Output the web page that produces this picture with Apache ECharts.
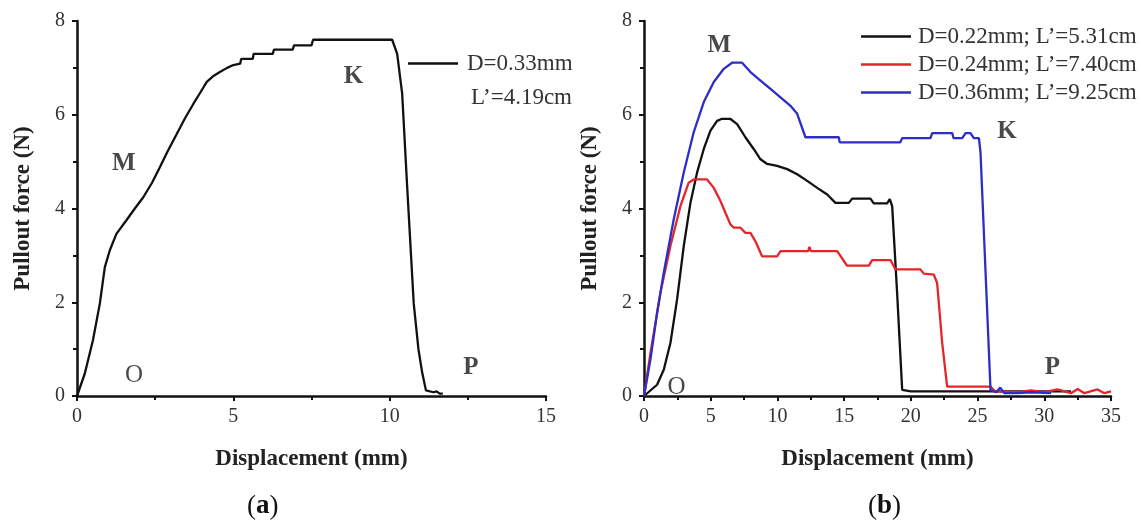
<!DOCTYPE html>
<html><head><meta charset="utf-8">
<script src="https://cdn.jsdelivr.net/npm/echarts@6/dist/echarts.min.js"></script>
<style>html,body{margin:0;padding:0;background:#fff}#c{width:1141px;height:524px}</style>
</head><body><div id="c"></div>
<script>
// ---- data ----
var xTicksA = [0, 5, 10, 15];
var xTicksB = [0, 5, 10, 15, 20, 25, 30, 35];
var yTicks = [0, 2, 4, 6, 8];
var nameA = 'D=0.33mm';
var nameA2 = 'L\u2019=4.19cm';
var namesB = ['D=0.22mm; L\u2019=5.31cm', 'D=0.24mm; L\u2019=7.40cm', 'D=0.36mm; L\u2019=9.25cm'];
var curveA = [[0,0],[0.25,0.48],[0.51,1.19],[0.73,1.97],[0.89,2.75],[1.05,3.11],[1.26,3.46],[1.58,3.75],[1.85,4.0],[2.12,4.24],[2.4,4.55],[2.65,4.88],[2.9,5.22],[3.19,5.59],[3.45,5.92],[3.72,6.23],[3.95,6.48],[4.15,6.70],[4.35,6.82],[4.57,6.91],[4.8,7.0],[5.0,7.06],[5.22,7.09],[5.25,7.19],[5.62,7.19],[5.65,7.30],[6.26,7.30],[6.3,7.39],[6.9,7.39],[6.94,7.48],[7.5,7.48],[7.55,7.6],[10.08,7.6],[10.24,7.3],[10.4,6.45],[10.56,4.46],[10.77,1.97],[10.92,1.0],[11.04,0.5],[11.16,0.12],[11.4,0.08],[11.5,0.1],[11.6,0.05],[11.7,0.05]];
var curveB022 = [[0,0],[0.98,0.24],[1.48,0.56],[1.98,1.13],[2.48,2.06],[2.98,3.2],[3.48,4.12],[3.98,4.77],[4.48,5.27],[4.98,5.66],[5.48,5.87],[5.8,5.91],[6.48,5.91],[6.98,5.8],[7.6,5.52],[8.22,5.27],[8.73,5.05],[9.23,4.95],[9.98,4.91],[10.73,4.84],[11.48,4.73],[12.23,4.59],[12.98,4.44],[13.73,4.3],[14.35,4.12],[15.35,4.12],[15.6,4.21],[16.97,4.21],[17.22,4.11],[18.22,4.11],[18.42,4.2],[18.6,4.05],[18.97,2.2],[19.35,0.13],[20,0.1],[25,0.1],[30,0.1],[32,0.1]];
var curveB024 = [[0,0],[0.48,0.91],[1.23,2.2],[1.98,3.2],[2.73,4.05],[3.35,4.55],[3.73,4.62],[4.73,4.62],[5.23,4.44],[5.73,4.16],[6.1,3.91],[6.48,3.66],[6.73,3.59],[7.23,3.59],[7.6,3.48],[7.98,3.48],[8.35,3.3],[8.85,2.98],[9.98,2.98],[10.23,3.09],[12.3,3.09],[12.4,3.18],[12.5,3.09],[14.48,3.09],[14.98,2.88],[15.22,2.78],[16.85,2.78],[17.1,2.9],[18.47,2.9],[18.85,2.7],[20.72,2.7],[20.97,2.61],[21.72,2.59],[21.97,2.41],[22.35,1.13],[22.72,0.2],[25.97,0.2],[26.3,0.1],[28,0.08],[29,0.12],[30,0.08],[31,0.14],[32,0.06],[32.5,0.15],[33,0.06],[34,0.14],[34.5,0.06],[35,0.1]];
var curveB036 = [[0,0],[0.48,0.77],[0.98,1.77],[1.48,2.63],[2.23,3.77],[2.98,4.77],[3.73,5.63],[4.48,6.27],[5.23,6.7],[5.98,6.98],[6.6,7.11],[7.35,7.11],[7.98,6.91],[8.73,6.73],[9.48,6.55],[10.23,6.37],[10.98,6.19],[11.48,6.02],[12.1,5.52],[14.6,5.52],[14.67,5.41],[19.2,5.41],[19.35,5.5],[21.47,5.5],[21.6,5.61],[23.1,5.61],[23.2,5.5],[23.85,5.5],[24.1,5.61],[24.47,5.61],[24.72,5.5],[25.1,5.5],[25.22,5.2],[25.97,0.13],[26.4,0.08],[26.7,0.18],[27,0.06],[28,0.06],[29,0.08],[30.5,0.06]];
var labelsA = [[1.5,4.96,'M'],[1.82,0.44,'O'],[8.84,6.82,'K'],[12.6,0.61,'P']];
var labelsB = [[5.65,7.47,'M'],[2.43,0.19,'O'],[27.2,5.65,'K'],[30.6,0.6,'P']];

var SERIF = '"Liberation Serif","DejaVu Serif",serif';
var colors = ['#111111', '#e3262a', '#2d2dc8'];
var LINE_ICON = 'path://M0,0H50V2.4H0Z';

function xAxis(gi, max) {
  return {
    type: 'value', gridIndex: gi, min: 0, max: max, interval: 5,
    name: 'Displacement (mm)', nameLocation: 'middle', nameGap: 52,
    nameTextStyle: {fontFamily: SERIF, fontWeight: 'bold', fontSize: 23, color: '#222'},
    axisLine: {show: true, lineStyle: {color: '#111', width: 2.5}},
    axisTick: {show: true, inside: false, length: 5, lineStyle: {color: '#111', width: 2}},
    minorTick: {show: true, splitNumber: 2, length: 4, lineStyle: {color: '#111', width: 2}},
    axisLabel: {fontFamily: SERIF, fontSize: 20, color: '#333', margin: 11},
    splitLine: {show: false}
  };
}
function yAxis(gi) {
  return {
    type: 'value', gridIndex: gi, min: 0, max: 8, interval: 2,
    name: 'Pullout force (N)', nameLocation: 'middle', nameGap: 42,
    nameTextStyle: {fontFamily: SERIF, fontWeight: 'bold', fontSize: 23, color: '#222'},
    axisLine: {show: true, lineStyle: {color: '#111', width: 2.5}},
    axisTick: {show: true, inside: false, length: 5, lineStyle: {color: '#111', width: 2}},
    minorTick: {show: true, splitNumber: 2, length: 4, lineStyle: {color: '#111', width: 2}},
    axisLabel: {fontFamily: SERIF, fontSize: 20, color: '#333', margin: 12},
    splitLine: {show: false}
  };
}
function lineSeries(name, data, xi, color) {
  return {
    type: 'line', name: name, data: data, xAxisIndex: xi, yAxisIndex: xi,
    symbol: 'none', showSymbol: false, smooth: false, animation: false,
    lineStyle: {color: color, width: 2.3}, itemStyle: {color: color}
  };
}
function labelSeries(data, xi) {
  return {
    type: 'scatter', data: data.map(function (d) {
      return {value: [d[0], d[1]], name: d[2],
        label: {fontWeight: d[2] === 'O' ? 'normal' : 'bold'}};
    }),
    xAxisIndex: xi, yAxisIndex: xi, symbolSize: 1, itemStyle: {color: 'rgba(0,0,0,0)'},
    silent: true, animation: false,
    label: {show: true, position: 'inside', formatter: '{b}', fontFamily: SERIF, fontSize: 25, color: '#1a1a1a'}
  };
}

var chart = echarts.init(document.getElementById('c'), null, {renderer: 'canvas'});
chart.setOption({
  backgroundColor: '#fff',
  animation: false,
  grid: [
    {left: 77, top: 21, width: 469, height: 375},
    {left: 644, top: 21, width: 467, height: 375}
  ],
  xAxis: [xAxis(0, 15), xAxis(1, 35)],
  yAxis: [yAxis(0), yAxis(1)],
  legend: [
    {data: [{name: nameA, icon: LINE_ICON}], left: 403, top: 47, itemWidth: 50, itemHeight: 2.4, selectedMode: false,
     textStyle: {fontFamily: SERIF, fontSize: 23, color: '#333', padding: [0, 0, 0, 4]}},
    {data: namesB.map(function (n) { return {name: n, icon: LINE_ICON}; }), orient: 'vertical', left: 856, top: 20,
     itemWidth: 54, itemHeight: 2.4, itemGap: 5,
     selectedMode: false, textStyle: {fontFamily: SERIF, fontSize: 23, color: '#333', padding: [0, 0, 0, 0]}}
  ],
  graphic: [
    {type: 'text', right: 1141 - 572, top: 86, style: {text: nameA2, font: '23px ' + SERIF, fill: '#333'}},
    {type: 'text', left: 247, top: 493, style: {rich: {p: {fontFamily: SERIF, fontSize: 27, fill: '#111'}, a: {fontFamily: SERIF, fontSize: 27, fontWeight: 'bold', fill: '#111'}}, text: '{p|(}{a|a}{p|)}'}},
    {type: 'text', left: 868, top: 493, style: {rich: {p: {fontFamily: SERIF, fontSize: 27, fill: '#111'}, a: {fontFamily: SERIF, fontSize: 27, fontWeight: 'bold', fill: '#111'}}, text: '{p|(}{a|b}{p|)}'}}
  ],
  series: [
    lineSeries(nameA, curveA, 0, colors[0]),
    lineSeries(namesB[0], curveB022, 1, colors[0]),
    lineSeries(namesB[1], curveB024, 1, colors[1]),
    lineSeries(namesB[2], curveB036, 1, colors[2]),
    labelSeries(labelsA, 0),
    labelSeries(labelsB, 1)
  ]
});
</script></body></html>
